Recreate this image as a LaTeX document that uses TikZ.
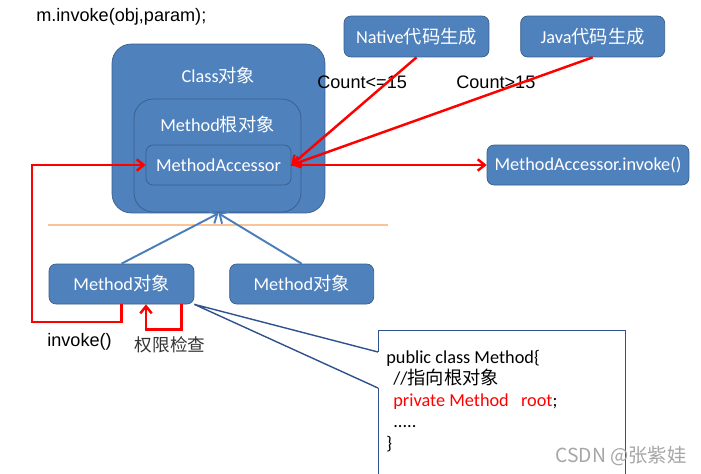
\documentclass[tikz,border=0pt]{standalone}
\usepackage{fontspec}
\setmainfont{Carlito}
\newfontfamily\cjk{Noto Sans CJK SC}
\newfontfamily\arialfont{Liberation Sans}
\newcommand\zh[1]{{\cjk #1}}
\usepackage{xcolor}
\usepackage{tikz}
\usetikzlibrary{arrows.meta, positioning, calc}

\definecolor{boxfill}{RGB}{79,129,189}
\definecolor{boxline}{RGB}{56,93,138}
\definecolor{arrowblue}{RGB}{74,126,187}
\definecolor{sepcol}{RGB}{250,196,150}
\definecolor{calloutcol}{RGB}{47,82,143}

\begin{document}
\begin{tikzpicture} [x = 0.02cm, y = -0.02cm,
    box/.style = {draw = boxline, fill = boxfill, rounded corners = 4pt, text = white,
      font = \fontsize{10.4}{12}\selectfont, minimum height = 0.8cm, inner sep = 0pt},
    boxtext/.style = {text = white, font = \fontsize{10.4}{12}\selectfont, inner sep = 0pt},
    note/.style = {font = \arialfont\fontsize{10.3}{12}\selectfont, inner sep = 0pt},
    redarrow/.style = {draw = red, line width = 1.4pt, -{Straight Barb[length = 4pt, width = 6.5pt]}},
    bluearrow/.style = {draw = arrowblue, line width = 1.1pt, -{Straight Barb[length = 4pt, width = 8pt]}}]

        \useasboundingbox (0,0) rectangle (701,474);

        \node (call) [note, anchor = base west] at (36,21.5) {m.invoke(obj,param);};

        % class object and what it holds
        \node (cls) [box, rounded corners = 11pt, minimum width = 4.26cm, minimum height = 3.38cm] at (218.5,128.5) {};
        \node (clstxt) [boxtext] at ([yshift = -0.64cm] cls.north) {Class\zh{对象}};
        \node (root) [box, rounded corners = 11pt, minimum width = 3.34cm, minimum height = 2.26cm] at (217.5,155.5) {};
        \node (roottxt) [boxtext] at ([yshift = -0.52cm] root.north) {Method\zh{根对象}};
        \node (acc) [box, minimum width = 2.9cm] at (218.5,165) {MethodAccessor};

        \node (native) [box, minimum width = 2.9cm, minimum height = 0.82cm] at (416.5,36.5) {Native\zh{代码生成}};
        \node (java) [box, minimum width = 2.88cm, minimum height = 0.82cm, right = 0.62cm of native] {Java\zh{代码生成}};
        \node (inv) [box, minimum width = 4.04cm] at (588,165) {MethodAccessor.invoke()};

        \node (m1) [box, minimum width = 2.9cm] at (121.5,284) {Method\zh{对象}};
        \node (m2) [box, minimum width = 2.88cm, right = 0.7cm of m1] {Method\zh{对象}};

        \node (le) [note, anchor = base west] at (317,88) {Count<=15};
        \node (gt) [note, anchor = base west] at (456,88) {Count>15};

        \draw [redarrow] (native.south) -- (acc.east);
        \draw [redarrow] (java.south) -- (acc.east);
        \draw [redarrow] (acc.east) -- (inv.west);

        \draw [draw = sepcol, line width = 0.8pt] (48,225) -- (388,225);

        \draw [bluearrow] (m1.north) -- (cls.south);
        \draw [bluearrow] (m2.north) -- (cls.south);

        % invoke() and the access check
        \coordinate (bend) at (32,322);
        \draw [redarrow] (m1.south) |- (bend) |- (acc.west);
        \draw [redarrow] ($(m1.south east)+(-13,0)$) -- ++(0,25) -| ($(m1.south)+(24.5,0)$);
        \node (invtxt) [note, anchor = base west] at (47,346) {invoke()};
        \node (check) [font = \cjk\fontsize{10}{12}\selectfont, text = black!80, inner sep = 0pt] at (170,345) {权限检查};

        % callout with the class source
        \node (code) [draw = calloutcol, line width = 0.8pt, fill = white, anchor = north west,
          minimum width = 4.94cm, minimum height = 3.2cm] at (378,330) {};
        \coordinate (p1) at ($(code.north west)+(0,22)$);
        \coordinate (p2) at ($(code.north west)+(0,58)$);
        \draw [white, line width = 1.4pt] (p1) -- (p2);
        \draw [calloutcol, line width = 0.8pt] (p1) -- (m1.south east) -- (p2);
        \node (codetxt) [anchor = north west, align = left, inner sep = 0pt,
          font = \fontsize{10.4}{12.2}\selectfont] at ($(code.north west)+(8,20)$)
          {public class Method\{\\
           \hspace*{4pt}//\zh{指向根对象}\\
           \hspace*{4pt}\textcolor{red}{private Method\hspace{7pt}root};\\
           \hspace*{4pt}.....\\
           \}};

        \node (mark) [font = \cjk\fontsize{11}{12}\selectfont, text = black!35, inner sep = 0pt] at (621,456) {CSDN @张紫娃};

\end{tikzpicture}
\end{document}
